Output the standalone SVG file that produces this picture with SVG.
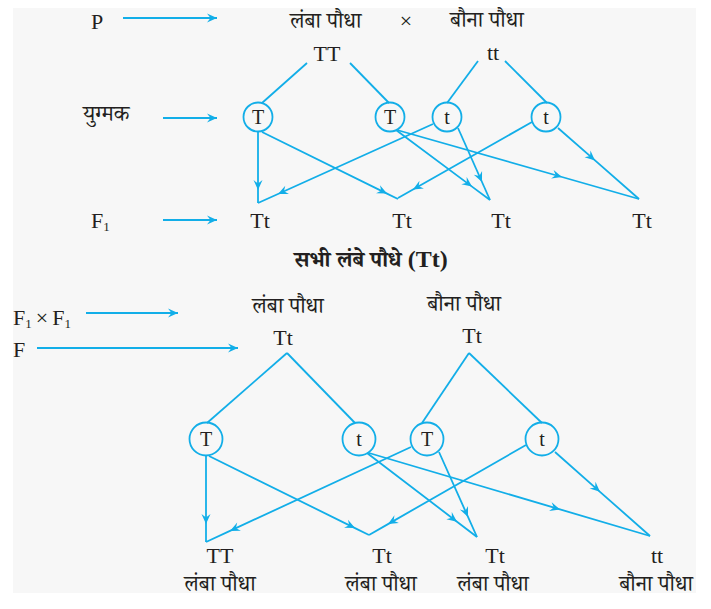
<svg xmlns="http://www.w3.org/2000/svg" width="711" height="609" viewBox="0 0 711 609">
<defs>
<style>
.ln{fill:none;stroke:#12aee8;stroke-width:1.8}
.cr{fill:none;stroke:#12aee8;stroke-width:1.8}
.lt{font-family:'Liberation Serif','Times New Roman',serif;font-size:22px;fill:#231f20}
.ct{font-family:'Liberation Serif','Times New Roman',serif;font-size:20px;fill:#231f20;text-anchor:middle}
.dv{font-family:'Noto Serif Devanagari','Noto Sans Devanagari','Lohit Devanagari','FreeSerif','Liberation Serif',serif;font-size:22px;fill:#231f20}
.sb{font-size:13px}
.m{text-anchor:middle}
.mid{marker-mid:url(#ah)}
.end{marker-end:url(#ah)}
</style>
<marker id="ah" viewBox="-11 -6 12 12" refX="0" refY="0" markerWidth="12" markerHeight="12" markerUnits="userSpaceOnUse" orient="auto" overflow="visible">
<path d="M0,0 L-10,-4.5 L-6.5,0 L-10,4.5 Z" fill="#12aee8"/>
</marker>
</defs>
<rect x="0" y="0" width="711" height="609" fill="#ffffff"/>
<rect x="13" y="8" width="683" height="585" fill="#f7f7f7"/>

<g id="labels">
<text class="lt" x="91" y="29">P</text>
<text class="dv" x="83" y="121">युग्मक</text>
<text class="lt" x="91" y="228">F<tspan class="sb" dy="3">1</tspan></text>
<text class="lt" x="13" y="325">F<tspan class="sb" dy="3">1</tspan><tspan dy="-3" dx="4">×</tspan><tspan dx="4">F</tspan><tspan class="sb" dy="3">1</tspan></text>
<text class="lt" x="13" y="357">F</text>
<text class="dv" x="371" y="267" font-weight="bold" font-size="25" text-anchor="middle">सभी लंबे पौधे <tspan font-family="'Liberation Serif',serif" font-size="24">(Tt)</tspan></text>
</g>

<g id="connectors">
<path class="ln end" d="M123,18 L217,18"/>
<path class="ln end" d="M163,118 L217,118"/>
<path class="ln end" d="M163,220 L217,220"/>
<path class="ln end" d="M86,313 L178,313"/>
<path class="ln end" d="M37,348 L238,348"/>

<path class="ln" d="M307,63 L262,103"/>
<path class="ln" d="M350,63 L389,103"/>
<path class="ln" d="M478,61 L447,103"/>
<path class="ln" d="M505,61 L547,103"/>

<path class="ln mid" d="M258,132 L258,190 L258,203"/>
<path class="ln mid" d="M433,124 L278,194 L258,203"/>
<path class="ln mid" d="M262,132 L387,193.6 L398,199"/>
<path class="ln mid" d="M532,122 L413,189.5 L398,198"/>
<path class="ln mid" d="M396,130 L472,186.6 L490,200"/>
<path class="ln mid" d="M458,128 L482,182 L490,200"/>
<path class="ln mid" d="M397,130 L562,177 L639,199"/>
<path class="ln mid" d="M558,128 L595,160.4 L639,199"/>

<path class="ln" d="M287,353 L207,423"/>
<path class="ln" d="M287,353 L355,423"/>
<path class="ln" d="M469,353 L422,423"/>
<path class="ln" d="M469,353 L542,423"/>

<path class="ln mid" d="M206,456 L206,524 L206,542"/>
<path class="ln mid" d="M411,447 L230,530.9 L206,542"/>
<path class="ln mid" d="M209,456 L355,528.1 L369,535"/>
<path class="ln mid" d="M526,445 L388,524.1 L369,535"/>
<path class="ln mid" d="M367,453 L457,521.7 L477,537"/>
<path class="ln mid" d="M439,452 L468,516.9 L477,537"/>
<path class="ln mid" d="M369,453 L560,509.4 L650,536"/>
<path class="ln mid" d="M555,452 L600,491.8 L650,536"/>
</g>

<g id="parent-tall">
<text class="dv" x="290" y="28">लंबा पौधा</text>
<text class="lt m" x="327" y="61">TT</text>
</g>
<g id="cross">
<text class="lt m" x="406" y="28" font-size="16">×</text>
</g>
<g id="parent-dwarf">
<text class="dv" x="450" y="27">बौना पौधा</text>
<text class="lt m" x="493" y="60">tt</text>
</g>

<g id="gamete-1"><circle class="cr" cx="258" cy="117" r="14.5"/><text class="ct" x="258" y="124">T</text></g>
<g id="gamete-2"><circle class="cr" cx="390" cy="117" r="14.5"/><text class="ct" x="390" y="124">T</text></g>
<g id="gamete-3"><circle class="cr" cx="447" cy="117" r="14.5"/><text class="ct" x="447" y="124">t</text></g>
<g id="gamete-4"><circle class="cr" cx="546" cy="117" r="14.5"/><text class="ct" x="546" y="124">t</text></g>

<g id="f1-1"><text class="lt m" x="260" y="228">Tt</text></g>
<g id="f1-2"><text class="lt m" x="402" y="228">Tt</text></g>
<g id="f1-3"><text class="lt m" x="501" y="228">Tt</text></g>
<g id="f1-4"><text class="lt m" x="642" y="228">Tt</text></g>

<g id="f1-parent-1">
<text class="dv m" x="288" y="313">लंबा पौधा</text>
<text class="lt m" x="283" y="345">Tt</text>
</g>
<g id="f1-parent-2">
<text class="dv m" x="464" y="311">बौना पौधा</text>
<text class="lt m" x="472" y="343">Tt</text>
</g>

<g id="g2-1"><circle class="cr" cx="206" cy="439" r="16.5"/><text class="ct" x="206" y="446">T</text></g>
<g id="g2-2"><circle class="cr" cx="359" cy="439" r="16.5"/><text class="ct" x="359" y="446">t</text></g>
<g id="g2-3"><circle class="cr" cx="427" cy="439" r="16.5"/><text class="ct" x="427" y="446">T</text></g>
<g id="g2-4"><circle class="cr" cx="542" cy="439" r="16.5"/><text class="ct" x="542" y="446">t</text></g>

<g id="f2-1"><text class="lt m" x="220" y="563">TT</text><text class="dv m" x="220" y="591">लंबा पौधा</text></g>
<g id="f2-2"><text class="lt m" x="382" y="563">Tt</text><text class="dv m" x="381" y="591">लंबा पौधा</text></g>
<g id="f2-3"><text class="lt m" x="495" y="563">Tt</text><text class="dv m" x="493" y="591">लंबा पौधा</text></g>
<g id="f2-4"><text class="lt m" x="657" y="563">tt</text><text class="dv m" x="656" y="591">बौना पौधा</text></g>
</svg>
